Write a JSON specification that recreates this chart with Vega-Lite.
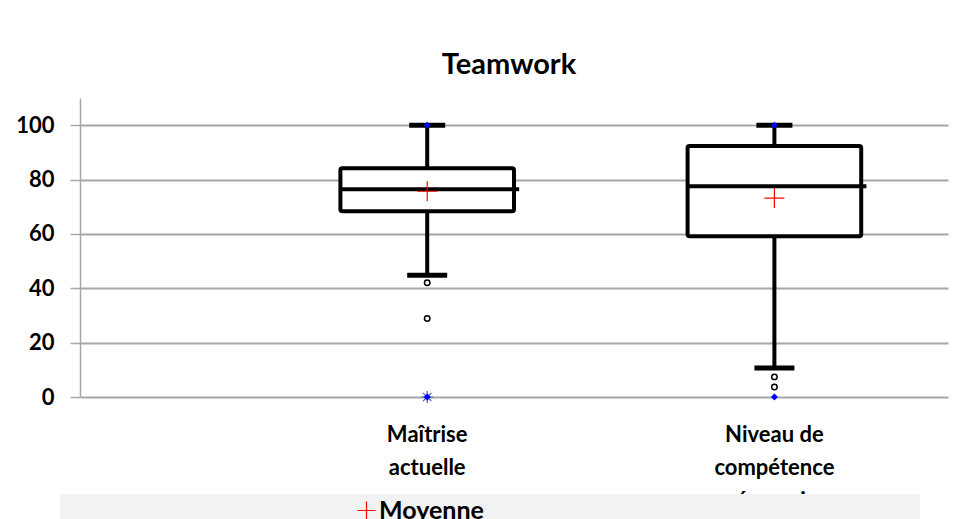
{
  "$schema": "https://vega.github.io/schema/vega-lite/v6.json",
  "width": 868,
  "height": 299,
  "autosize": {"type": "none"},
  "padding": {"left": 80, "top": 98, "right": 8, "bottom": 122},
  "background": "white",
  "title": {"text": "Teamwork", "font": "Lato", "fontSize": 29, "fontWeight": "bold", "color": "black", "offset": 18, "dx": -5, "anchor": "middle"},
  "datasets": {
    "summary": [
      {"cat": "Maîtrise actuelle", "lower": 44.8, "q1": 68.3, "median": 76.4, "q3": 84.2, "upper": 100, "mean": 75.7},
      {"cat": "Niveau de compétence nécessaire", "lower": 10.7, "q1": 59.1, "median": 77.5, "q3": 92.3, "upper": 100, "mean": 73.2}
    ],
    "points": [
      {"cat": "Maîtrise actuelle", "value": 42.0, "kind": "outlier"},
      {"cat": "Maîtrise actuelle", "value": 28.9, "kind": "outlier"},
      {"cat": "Maîtrise actuelle", "value": 0, "kind": "extreme"},
      {"cat": "Maîtrise actuelle", "value": 0, "kind": "min"},
      {"cat": "Maîtrise actuelle", "value": 100, "kind": "max"},
      {"cat": "Niveau de compétence nécessaire", "value": 7.4, "kind": "outlier"},
      {"cat": "Niveau de compétence nécessaire", "value": 3.7, "kind": "outlier"},
      {"cat": "Niveau de compétence nécessaire", "value": 0, "kind": "min"},
      {"cat": "Niveau de compétence nécessaire", "value": 100, "kind": "max"}
    ]
  },
  "encoding": {
    "x": {
      "field": "cat", "type": "nominal", "sort": null, "title": null,
      "scale": {"domain": ["Maîtrise actuelle", "Niveau de compétence nécessaire"], "paddingInner": 0, "paddingOuter": 0.25, "align": 1}
    }
  },
  "layer": [
    {
      "data": {"name": "summary"},
      "mark": {"type": "rule", "stroke": "black", "strokeWidth": 4, "opacity": 1},
      "encoding": {
        "y": {"field": "lower", "type": "quantitative", "title": null, "scale": {"domain": [0, 110], "nice": false}, "axis": {"values": [0, 20, 40, 60, 80, 100]}},
        "y2": {"field": "upper"}
      }
    },
    {
      "data": {"name": "summary"},
      "mark": {"type": "bar", "fill": "white", "stroke": "black", "strokeWidth": 4, "cornerRadius": 2, "width": {"band": 0.5}, "opacity": 1},
      "encoding": {
        "y": {"field": "q1", "type": "quantitative", "title": null},
        "y2": {"field": "q3"}
      }
    },
    {
      "data": {"name": "summary"},
      "mark": {"type": "tick", "color": "black", "thickness": 4, "size": 180, "xOffset": 2, "opacity": 1},
      "encoding": {"y": {"field": "median", "type": "quantitative", "title": null}}
    },
    {
      "data": {"name": "summary"},
      "mark": {"type": "tick", "color": "black", "thickness": 5, "size": 36, "opacity": 1},
      "encoding": {"y": {"field": "upper", "type": "quantitative", "title": null}}
    },
    {
      "data": {"name": "summary"},
      "mark": {"type": "tick", "color": "black", "thickness": 5, "size": 40, "opacity": 1},
      "encoding": {"y": {"field": "lower", "type": "quantitative", "title": null}}
    },
    {
      "data": {"name": "points"},
      "transform": [{"filter": "datum.kind == 'outlier'"}],
      "mark": {"type": "point", "shape": "circle", "filled": false, "stroke": "black", "strokeWidth": 1.5, "size": 30, "opacity": 1},
      "encoding": {"y": {"field": "value", "type": "quantitative", "title": null}}
    },
    {
      "data": {"name": "points"},
      "transform": [{"filter": "datum.kind == 'extreme'"}],
      "mark": {"type": "point", "shape": "M-1,0L1,0M0,-1L0,1M-0.7,-0.7L0.7,0.7M-0.7,0.7L0.7,-0.7", "filled": false, "stroke": "#4a5fb0", "strokeWidth": 1.2, "size": 144, "opacity": 1},
      "encoding": {"y": {"field": "value", "type": "quantitative", "title": null}}
    },
    {
      "data": {"name": "points"},
      "transform": [{"filter": "datum.kind == 'min' || datum.kind == 'max'"}],
      "mark": {"type": "point", "shape": "diamond", "filled": true, "fill": "#0000ff", "stroke": null, "size": 50, "opacity": 1},
      "encoding": {"y": {"field": "value", "type": "quantitative", "title": null}}
    },
    {
      "data": {"name": "summary"},
      "mark": {"type": "point", "shape": "M-1,0L1,0M0,-1L0,1", "filled": false, "strokeWidth": 1.2, "size": 400, "opacity": 1},
      "encoding": {
        "y": {"field": "mean", "type": "quantitative", "title": null},
        "color": {
          "datum": "Moyenne",
          "scale": {"range": ["#ff0000"]},
          "legend": {
            "orient": "none", "legendX": -20, "legendY": 396, "title": null, "zindex": 3,
            "fillColor": "#f2f2f2", "padding": 4,
            "symbolType": "M-1,0L1,0M0,-1L0,1", "symbolSize": 324, "symbolStrokeWidth": 1.2,
            "symbolOffset": 290, "labelOffset": 0,
            "labelFont": "Lato", "labelFontSize": 25, "labelFontWeight": "bold", "labelColor": "black",
            "labelLimit": 1000,
            "labelExpr": "datum.label + '\u2003\u2003\u2003\u2003\u2003\u2003\u2003\u2003\u2003\u2003\u2003\u2003\u2003\u2003\u2003\u2003\u2003\u2003\u2003\u2003\u2003\u2003\u2003\u200b'"
          }
        }
      }
    }
  ],
  "config": {
    "view": {"stroke": null},
    "axisY": {
      "tickCount": 6,
      "labelFont": "Lato", "labelFontSize": 22, "labelFontWeight": "bold", "labelColor": "black",
      "labelPadding": 16, "tickSize": 10, "tickColor": "#a6a6a6", "tickWidth": 1.5,
      "domainColor": "#a6a6a6", "domainWidth": 1.5,
      "gridColor": "#a6a6a6", "gridWidth": 2
    },
    "axisX": {
      "domain": false, "ticks": false, "grid": false, "labelAngle": 0,
      "labelFont": "Lato", "labelFontSize": 22, "labelFontWeight": "bold", "labelColor": "black",
      "labelPadding": 27, "labelLineHeight": 33, "labelLimit": 400,
      "labelExpr": "datum.label == 'Maîtrise actuelle' ? ['Maîtrise', 'actuelle'] : ['Niveau de', 'compétence', 'nécessaire']"
    }
  }
}
